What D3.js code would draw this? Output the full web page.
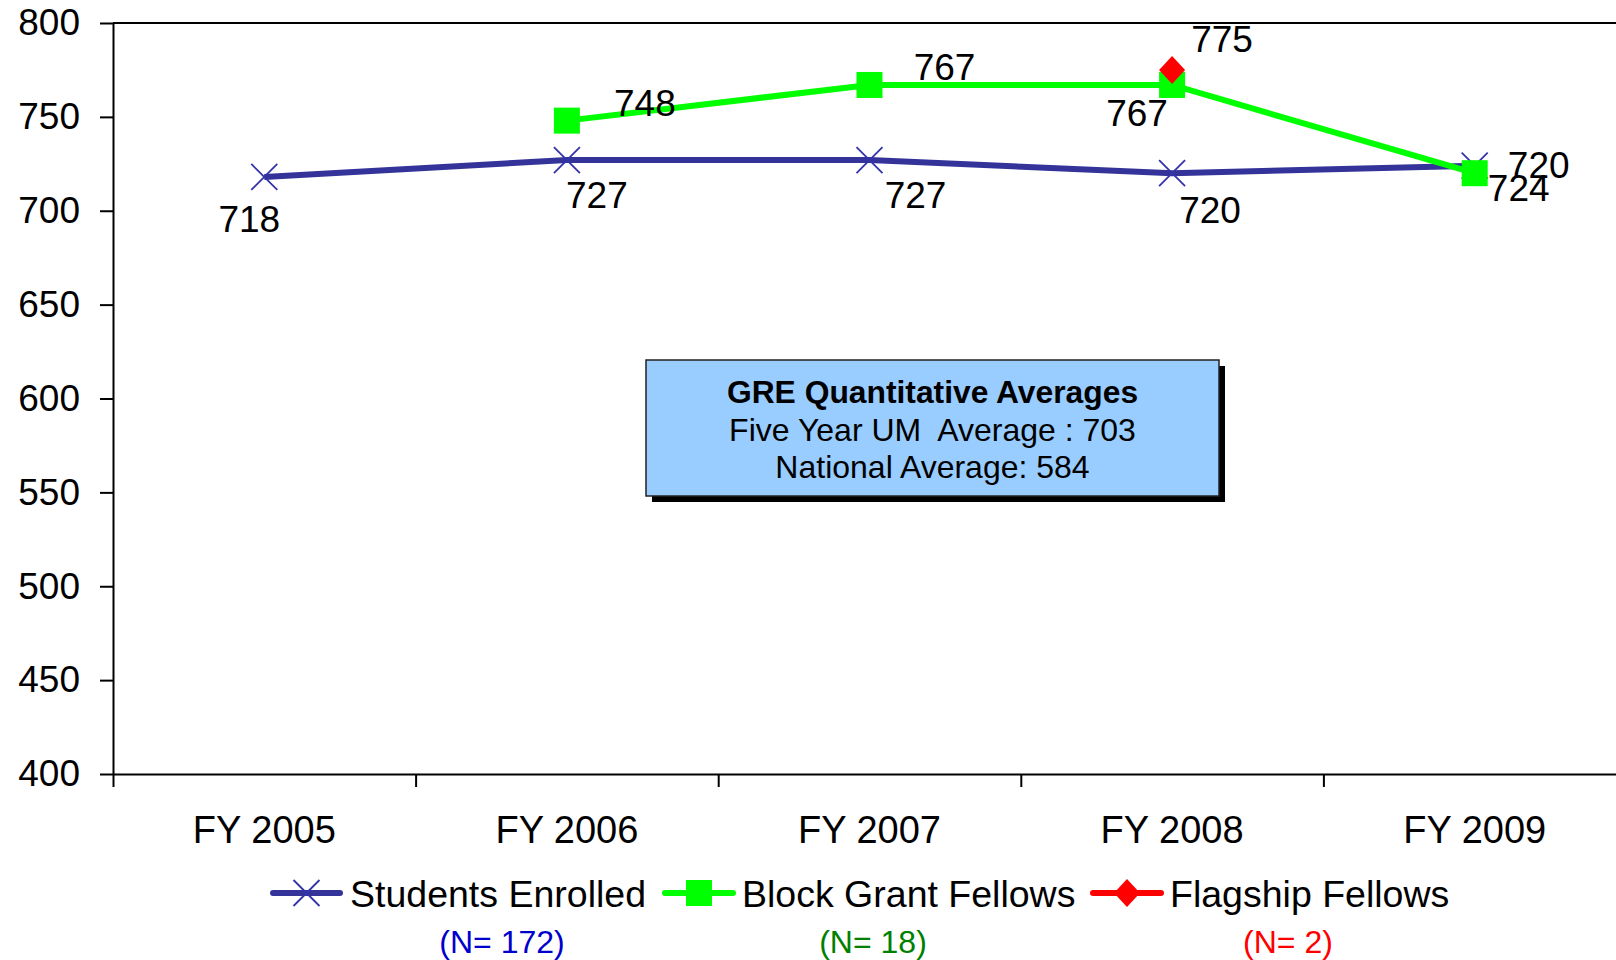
<!DOCTYPE html>
<html>
<head>
<meta charset="utf-8">
<script src="https://cdn.jsdelivr.net/npm/d3@7"></script>
<style>
    html, body { margin: 0; padding: 0; background: #fff; }
    svg { display: block; font-family: Arial, "Liberation Sans", sans-serif; }
</style>
</head>
<body>
<div id="chart"></div>
<script>
// data
const categories = ["FY 2005", "FY 2006", "FY 2007", "FY 2008", "FY 2009"];
const studentsEnrolled = [718, 727, 727, 720, 724];
const blockGrantFellows = [null, 748, 767, 767, 720];
const flagshipFellows = [null, null, null, 775, null];
const yTicks = [400, 450, 500, 550, 600, 650, 700, 750, 800];
const seriesNames = ["Students Enrolled", "Block Grant Fellows", "Flagship Fellows"];
const seriesCounts = ["(N= 172)", "(N= 18)", "(N= 2)"];
const boxLines = ["GRE Quantitative Averages", "Five Year UM  Average : 703", "National Average: 584"];

// label nudges (hand placed like the original)
const studentLabelOffsets = [[-15, 42], [30, 35], [46, 35], [38, 37], [44, 22]];
const blockLabelOffsets = [null, [78, -18], [75, -18], [-35, 28], [64, -8]];
const flagshipLabelOffsets = [null, null, null, [50, -31], null];

const width = 1616, height = 960;
const plotLeft = 113, plotRight = 1626, plotTop = 23, plotBottom = 774;

const blue = "#333399", green = "#00ff00", red = "#ff0000";

const svg = d3.select("#chart")
    .append("svg")
    .attr("width", width)
    .attr("height", height)
;

svg.append("rect")
    .attr("width", width)
    .attr("height", height)
    .attr("fill", "#fff");

const x = d3.scaleBand()
    .domain(categories)
    .range([plotLeft, plotRight])
    .padding(0);

const xEdge = d3.scaleLinear()
    .domain([0, categories.length])
    .range([plotLeft, plotRight]);

const y = d3.scaleLinear()
    .domain([400, 800])
    .range([plotBottom, plotTop]);

const cx = c => x(c) + x.bandwidth() / 2;

// top border of plot area
svg.append("line")
    .attr("x1", plotLeft).attr("x2", plotRight)
    .attr("y1", y(800)).attr("y2", y(800))
    .attr("stroke", "#000").attr("stroke-width", 2);

// y axis
const yAxis = svg.append("g")
    .attr("transform", `translate(${plotLeft},0)`)
    .call(d3.axisLeft(y).tickValues(yTicks).tickSize(13).tickPadding(20).tickSizeOuter(0));
yAxis.select(".domain").attr("stroke", "#000").attr("stroke-width", 2);
yAxis.selectAll(".tick line").attr("stroke", "#000").attr("stroke-width", 2);
yAxis.selectAll(".tick text")
    .attr("fill", "#000")
    .style("font-size", "37px")
    .style("font-family", "Arial, 'Liberation Sans', sans-serif");

// x axis: ticks between categories
const xTicks = svg.append("g")
    .attr("transform", `translate(0,${plotBottom})`)
    .call(d3.axisBottom(xEdge).tickValues(d3.range(0, categories.length + 1)).tickSize(13).tickFormat("").tickSizeOuter(0));
xTicks.select(".domain").attr("stroke", "#000").attr("stroke-width", 2);
xTicks.selectAll(".tick line").attr("stroke", "#000").attr("stroke-width", 2);

const xLabels = svg.append("g")
    .attr("transform", `translate(0,${plotBottom})`)
    .call(d3.axisBottom(x).tickSize(0).tickPadding(42));
xLabels.select(".domain").remove();
xLabels.selectAll(".tick text")
    .attr("fill", "#000")
    .style("font-size", "38px")
    .style("font-family", "Arial, 'Liberation Sans', sans-serif");

// text box
const box = { x: 646, y: 360, w: 573, h: 136 };
svg.append("rect")
    .attr("x", box.x + 6).attr("y", box.y + 6)
    .attr("width", box.w).attr("height", box.h)
    .attr("fill", "#000");
svg.append("rect")
    .attr("x", box.x).attr("y", box.y)
    .attr("width", box.w).attr("height", box.h)
    .attr("fill", "#99ccff")
    .attr("stroke", "#222").attr("stroke-width", 1.5);
svg.append("g")
    .selectAll("text")
    .data(boxLines)
    .join("text")
    .attr("x", box.x + box.w / 2)
    .attr("y", (d, i) => 403 + i * 37.5)
    .attr("text-anchor", "middle")
    .style("white-space", "pre")
    .style("font-size", (d, i) => i === 0 ? "31.8px" : "32px")
    .style("font-weight", (d, i) => i === 0 ? "bold" : "normal")
    .text(d => d);

// series
const lineGen = d3.line()
    .defined(d => d.v != null)
    .x(d => cx(d.c))
    .y(d => y(d.v));

function pts(values) {
    return categories.map((c, i) => ({ c: c, v: values[i], i: i }));
}

const crossPath = "M-13,-13L13,13M-13,13L13,-13";
const diamondPath = "M0,-14L13,0L0,14L-13,0Z";

// Students Enrolled
svg.append("path")
    .datum(pts(studentsEnrolled))
    .attr("d", lineGen)
    .attr("fill", "none")
    .attr("stroke", blue)
    .attr("stroke-width", 6);
svg.append("g")
    .selectAll("path")
    .data(pts(studentsEnrolled).filter(d => d.v != null))
    .join("path")
    .attr("transform", d => `translate(${cx(d.c)},${y(d.v)})`)
    .attr("d", crossPath)
    .attr("stroke", "#3333aa")
    .attr("stroke-width", 1.8)
    .attr("fill", "none");

// Block Grant Fellows
svg.append("path")
    .datum(pts(blockGrantFellows))
    .attr("d", lineGen)
    .attr("fill", "none")
    .attr("stroke", green)
    .attr("stroke-width", 6);
svg.append("g")
    .selectAll("rect")
    .data(pts(blockGrantFellows).filter(d => d.v != null))
    .join("rect")
    .attr("x", d => cx(d.c) - 13)
    .attr("y", d => y(d.v) - 13)
    .attr("width", 26)
    .attr("height", 26)
    .attr("fill", green);

// Flagship Fellows
svg.append("g")
    .selectAll("path")
    .data(pts(flagshipFellows).filter(d => d.v != null))
    .join("path")
    .attr("transform", d => `translate(${cx(d.c)},${y(d.v)})`)
    .attr("d", diamondPath)
    .attr("fill", red);

// data labels
function drawLabels(values, offsets) {
    svg.append("g")
        .selectAll("text")
        .data(pts(values).filter(d => d.v != null))
        .join("text")
        .attr("x", d => cx(d.c) + offsets[d.i][0])
        .attr("y", d => y(d.v) + offsets[d.i][1])
        .attr("dy", "0.35em")
        .attr("text-anchor", "middle")
        .style("font-size", "37px")
        .attr("fill", "#000")
        .text(d => d.v);
}
drawLabels(blockGrantFellows, blockLabelOffsets);
drawLabels(studentsEnrolled, studentLabelOffsets);
drawLabels(flagshipFellows, flagshipLabelOffsets);

// legend
const legendY = 893;
const legendItems = [
    { line: [273, 340], text: 350, n: 502, color: blue, nColor: "#0000cc", marker: "cross" },
    { line: [665, 733], text: 742, n: 873, color: green, nColor: "#008000", marker: "square" },
    { line: [1093, 1161], text: 1170, n: 1288, color: red, nColor: "#ff0000", marker: "diamond" }
];

const legend = svg.append("g");
legendItems.forEach((it, i) => {
    const mid = (it.line[0] + it.line[1]) / 2;
    legend.append("line")
        .attr("x1", it.line[0]).attr("x2", it.line[1])
        .attr("y1", legendY).attr("y2", legendY)
        .attr("stroke", it.color)
        .attr("stroke-width", 6)
        .attr("stroke-linecap", "round");
    if (it.marker === "cross") {
        legend.append("path")
            .attr("transform", `translate(${mid},${legendY})`)
            .attr("d", crossPath)
            .attr("stroke", "#3333aa").attr("stroke-width", 1.8).attr("fill", "none");
    } else if (it.marker === "square") {
        legend.append("rect")
            .attr("x", mid - 13).attr("y", legendY - 13)
            .attr("width", 26).attr("height", 26)
            .attr("fill", it.color);
    } else {
        legend.append("path")
            .attr("transform", `translate(${mid},${legendY})`)
            .attr("d", diamondPath)
            .attr("fill", it.color);
    }
    legend.append("text")
        .attr("x", it.text)
        .attr("y", legendY + 14)
        .style("font-size", "37.5px")
        .attr("fill", "#000")
        .text(seriesNames[i]);
    legend.append("text")
        .attr("x", it.n)
        .attr("y", 953)
        .attr("text-anchor", "middle")
        .style("font-size", "32px")
        .attr("fill", it.nColor)
        .text(seriesCounts[i]);
});
</script>
</body>
</html>
